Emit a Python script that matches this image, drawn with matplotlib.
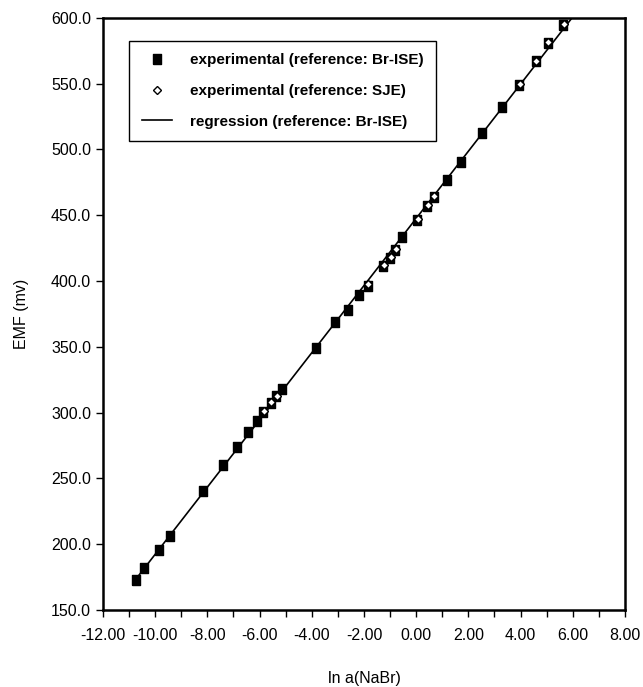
import numpy as np
import matplotlib
matplotlib.use("Agg")
import matplotlib.pyplot as plt

# ln a(NaBr) and EMF (mV), Br-ISE reference
br_x = [-10.75, -10.42, -9.85, -9.43, -8.16, -7.39, -6.88, -6.43, -6.11, -5.86,
        -5.57, -5.35, -5.15, -3.85, -3.11, -2.60, -2.18, -1.84, -1.26, -1.00,
        -0.81, -0.53, 0.04, 0.40, 0.68, 1.19, 1.70, 2.53, 3.28, 3.95,
        4.58, 5.04, 5.64]
br_y = [173.2, 182.1, 195.4, 206.0, 240.3, 260.0, 274.0, 285.1, 293.5, 300.3,
        307.4, 312.5, 317.6, 349.2, 369.0, 378.3, 389.7, 396.6, 411.8, 417.6,
        423.4, 433.6, 446.2, 456.8, 464.0, 477.0, 490.3, 512.6, 532.4, 549.3,
        567.0, 581.0, 594.2]

# SJE reference
sje_x = [-5.83, -5.55, -5.33, -1.84, -1.24, -0.98, -0.79, 0.06, 0.44, 0.70,
         3.97, 4.60, 5.06, 5.66]
sje_y = [301.5, 307.8, 313.0, 397.5, 412.5, 418.5, 424.0, 446.8, 457.5, 464.6,
         549.8, 567.5, 581.5, 595.0]

plt.rcParams['font.family'] = ['Liberation Sans', 'DejaVu Sans']

fig = plt.figure(figsize=(6.43, 6.87), dpi=100)
ax = fig.add_axes([0.160, 0.112, 0.812, 0.862])

# regression of the Br-ISE points, drawn up to the top of the frame
a, b = np.polyfit(br_x, br_y, 1)
x_end = (600.0 - b) / a
reg_x = np.array([min(br_x), x_end])
ax.plot(reg_x, a * reg_x + b, color='black', lw=1.2, zorder=2,
        label='regression (reference: Br-ISE)')

rect = [(-0.36, -0.5), (0.36, -0.5), (0.36, 0.5), (-0.36, 0.5), (-0.36, -0.5)]
ax.plot(br_x, br_y, ls='none', marker=rect, ms=7.2, color='black', zorder=3,
        label='experimental (reference: Br-ISE)')
ax.plot(sje_x, sje_y, ls='none', marker='D', ms=4.0, mfc='white', mec='black',
        mew=1.0, zorder=4, label='experimental (reference: SJE)')

ax.set_xlim(-12, 8)
ax.set_ylim(150, 600)
ax.set_xticks(np.arange(-12, 8.1, 2))
ax.set_xticks(np.arange(-11, 8, 2), minor=True)
ax.set_xticklabels(['%.2f' % v for v in np.arange(-12, 8.1, 2)])
ax.set_yticks(np.arange(150, 601, 50))
ax.set_yticklabels(['%.1f' % v for v in np.arange(150, 601, 50)])
ax.tick_params(which='both', direction='out', length=5, width=1, labelsize=11.5)
ax.tick_params(axis='x', which='both', pad=8)

for s in ax.spines.values():
    s.set_linewidth(1.8)

ax.set_xlabel('ln a(NaBr)', fontsize=11.5, labelpad=20)
ax.set_ylabel('EMF (mv)', fontsize=11.5, labelpad=16)

h, l = ax.get_legend_handles_labels()
leg = ax.legend([h[1], h[2], h[0]], [l[1], l[2], l[0]],
                loc='upper left', bbox_to_anchor=(0.036, 0.974),
                fancybox=False, edgecolor='black', framealpha=1,
                prop={'weight': 'bold', 'size': 11}, labelspacing=1.1,
                handlelength=2.0, handletextpad=1.2, borderpad=0.8)
leg.get_frame().set_linewidth(1.0)

plt.savefig('out.png', dpi=100)
